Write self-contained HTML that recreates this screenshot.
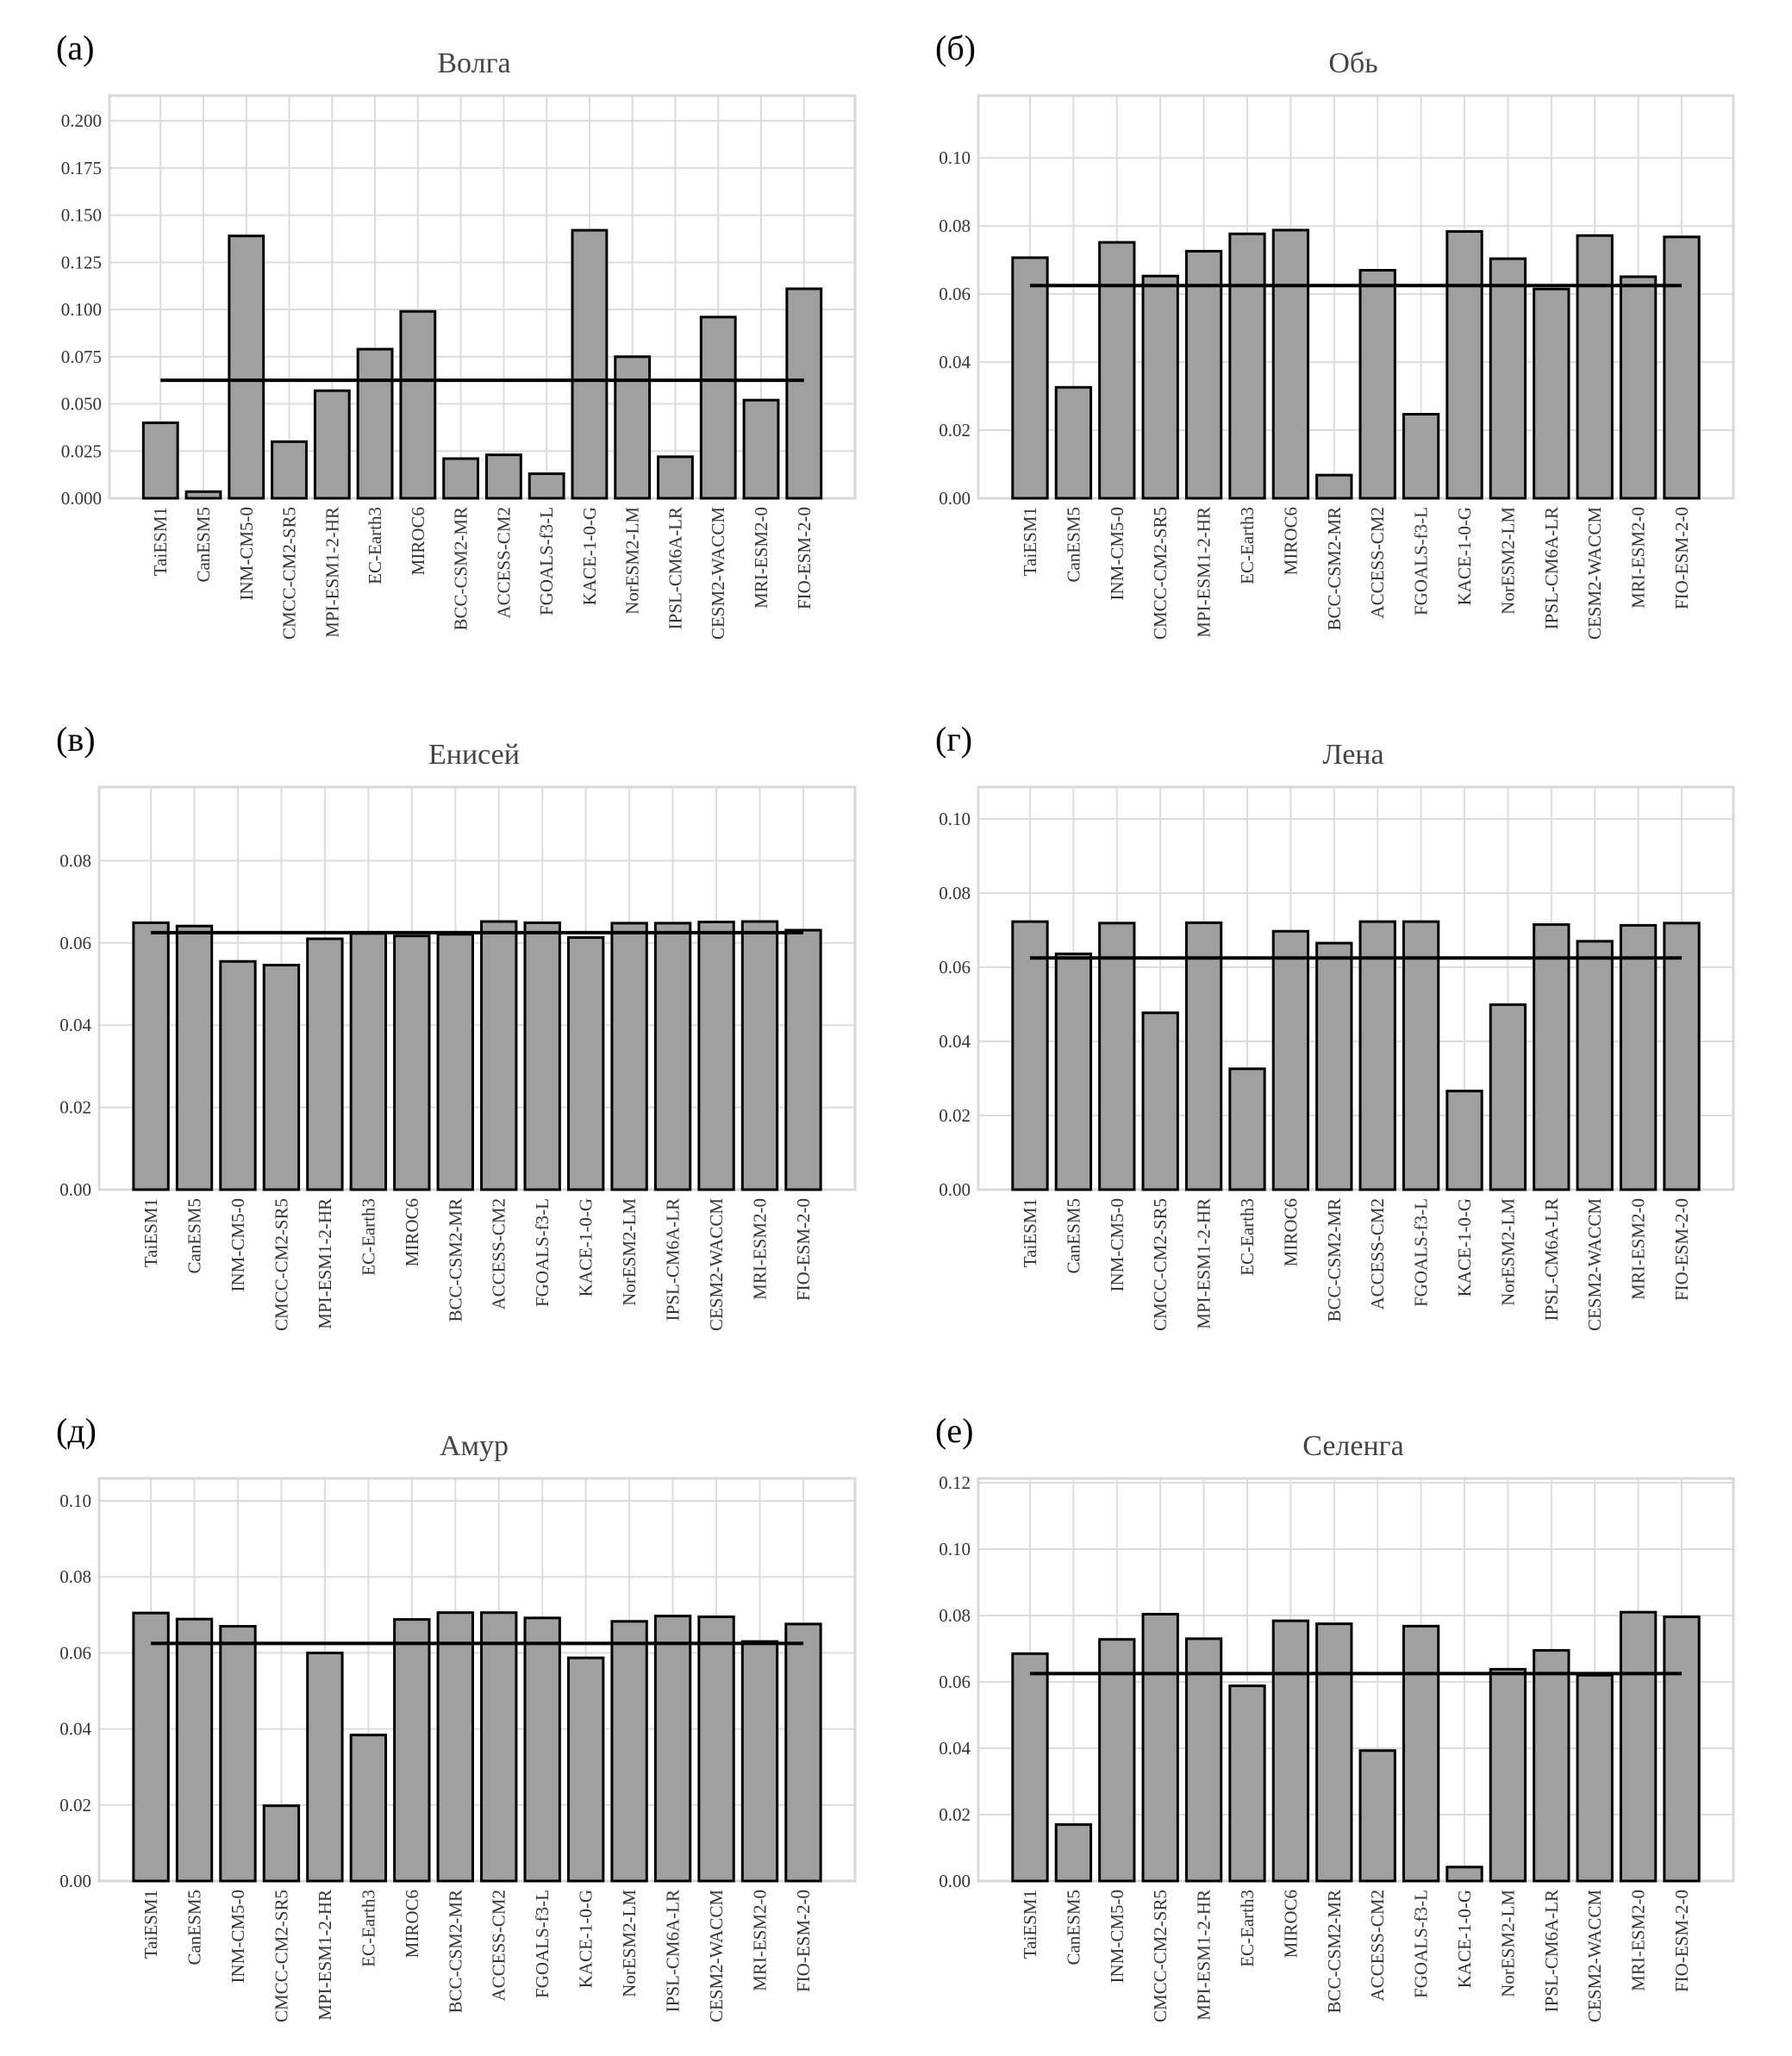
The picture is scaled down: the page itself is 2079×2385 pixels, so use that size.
<!DOCTYPE html>
<html><head><meta charset="utf-8">
<style>
html,body{margin:0;padding:0;background:#fff;}
svg{display:block;}
text{font-family:"Liberation Serif","DejaVu Serif",serif;}
</style></head>
<body>
<svg id="fig" width="2079" height="2385" viewBox="0 0 2079 2385" xmlns="http://www.w3.org/2000/svg"></svg>
<script>
const categories = ["TaiESM1","CanESM5","INM-CM5-0","CMCC-CM2-SR5","MPI-ESM1-2-HR","EC-Earth3","MIROC6","BCC-CSM2-MR","ACCESS-CM2","FGOALS-f3-L","KACE-1-0-G","NorESM2-LM","IPSL-CM6A-LR","CESM2-WACCM","MRI-ESM2-0","FIO-ESM-2-0"];
const meanValue = 0.0625;
const volgaValues = [0.040,0.0035,0.139,0.030,0.057,0.079,0.099,0.021,0.023,0.013,0.142,0.075,0.022,0.096,0.052,0.111];
const obValues = [0.0707,0.0326,0.0752,0.0653,0.0726,0.0777,0.0788,0.0068,0.067,0.0247,0.0784,0.0704,0.0615,0.0772,0.0651,0.0768];
const yeniseiValues = [0.0649,0.0641,0.0555,0.0546,0.061,0.0623,0.0617,0.0621,0.0652,0.0649,0.0613,0.0648,0.0648,0.0651,0.0652,0.0631];
const lenaValues = [0.0723,0.0636,0.0719,0.0477,0.072,0.0326,0.0697,0.0665,0.0723,0.0723,0.0266,0.0499,0.0715,0.067,0.0713,0.0719];
const amurValues = [0.0705,0.0689,0.067,0.0198,0.060,0.0384,0.0688,0.0706,0.0706,0.0692,0.0587,0.0683,0.0697,0.0695,0.063,0.0676];
const selengaValues = [0.0685,0.017,0.0728,0.0804,0.073,0.0588,0.0784,0.0775,0.0393,0.0768,0.0042,0.0638,0.0695,0.062,0.081,0.0796];
const ticksA = [0,0.025,0.05,0.075,0.1,0.125,0.15,0.175,0.2];
const ticks10 = [0,0.02,0.04,0.06,0.08,0.1];
const ticks8 = [0,0.02,0.04,0.06,0.08];
const ticks12 = [0,0.02,0.04,0.06,0.08,0.1,0.12];

const NS="http://www.w3.org/2000/svg";
const FF='"Liberation Serif","DejaVu Serif",serif';
const svg=document.getElementById('fig');
function mk(tag,attrs,parent){const e=document.createElementNS(NS,tag);for(const k in attrs)e.setAttribute(k,attrs[k]);if(tag==='text')e.setAttribute('font-family',FF);(parent||svg).appendChild(e);return e;}
const panels=[
 {id:'volga',label:'(а)',title:'Волга',vals:volgaValues,x0:127,x1:992,top:111,bot:578,ymax:0.2133,ticks:ticksA,dec:3,lx:65,tx:550},
 {id:'ob',label:'(б)',title:'Обь',vals:obValues,x0:1135,x1:2011,top:111,bot:578,ymax:0.1183,ticks:ticks10,dec:2,lx:1085,tx:1570},
 {id:'yenisei',label:'(в)',title:'Енисей',vals:yeniseiValues,x0:115,x1:992,top:913,bot:1380,ymax:0.0979,ticks:ticks8,dec:2,lx:65,tx:550},
 {id:'lena',label:'(г)',title:'Лена',vals:lenaValues,x0:1135,x1:2011,top:913,bot:1380,ymax:0.1086,ticks:ticks10,dec:2,lx:1085,tx:1570},
 {id:'amur',label:'(д)',title:'Амур',vals:amurValues,x0:115,x1:992,top:1715,bot:2182,ymax:0.1059,ticks:ticks10,dec:2,lx:65,tx:550},
 {id:'selenga',label:'(е)',title:'Селенга',vals:selengaValues,x0:1135,x1:2011,top:1715,bot:2182,ymax:0.1213,ticks:ticks12,dec:2,lx:1085,tx:1570}
];
panels.forEach(p=>{
  const g=mk('g',{});
  
  
  const n=categories.length;
  const xmin=-1.19, xmax=n-1+1.19;
  const X=i=>p.x0+(i-xmin)/(xmax-xmin)*(p.x1-p.x0);
  const Y=v=>p.bot-v/p.ymax*(p.bot-p.top);
  const unit=(p.x1-p.x0)/(xmax-xmin);
  const lab=mk('text',{x:p.lx,y:p.top-42,'font-size':40,fill:'#000'},g);
  lab.textContent=p.label;
  
  
  const t=mk('text',{x:p.tx,y:p.top-27,'font-size':34,fill:'#444','text-anchor':'middle'},g);
  t.textContent=p.title;
  
  
  p.ticks.forEach(v=>{
    const l=mk('line',{x1:p.x0,x2:p.x1,y1:Y(v),y2:Y(v),stroke:'#dcdcdc','stroke-width':2},g);
    
    
    const tt=mk('text',{x:p.x0-9,y:Y(v)+7,'font-size':21,fill:'#333','text-anchor':'end'},g);
    tt.textContent=v.toFixed(p.dec);
    
    
  });
  categories.forEach((c,i)=>{
    const l=mk('line',{x1:X(i),x2:X(i),y1:p.top,y2:p.bot,stroke:'#dcdcdc','stroke-width':2},g);
    
    
  });
  const box=mk('rect',{x:p.x0,y:p.top,width:p.x1-p.x0,height:p.bot-p.top,fill:'none',stroke:'#d8d8d8','stroke-width':3},g);
  
  
  p.vals.forEach((v,i)=>{
    const w=0.8*unit;
    const r=mk('rect',{x:X(i)-w/2,y:Y(v),width:w,height:p.bot-Y(v),fill:'#a0a0a0',stroke:'#000','stroke-width':3},g);
    
    
  });
  const ml=mk('line',{x1:X(0),x2:X(n-1),y1:Y(meanValue),y2:Y(meanValue),stroke:'#000','stroke-width':4},g);
  
  
  categories.forEach((c,i)=>{
    const tx=mk('text',{x:0,y:0,'font-size':21,fill:'#333','text-anchor':'end',transform:`translate(${X(i)+7},${p.bot+10}) rotate(-90)`},g);
    tx.textContent=c;
    
    
  });
});
</script>
</body></html>
